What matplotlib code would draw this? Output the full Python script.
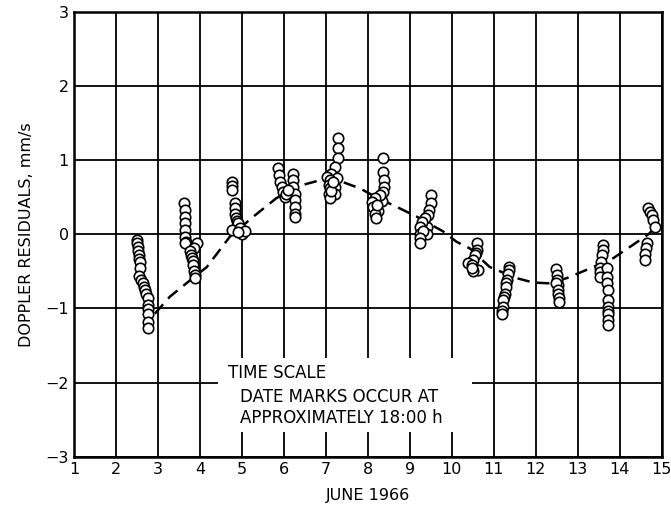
import matplotlib
matplotlib.use('Agg')
import matplotlib.pyplot as plt
from matplotlib.patches import Rectangle

plt.rcParams['font.family'] = ['DejaVu Sans']

# residual points, one list per tracking pass (day of June, mm/s)
pass_x = [
    [2.49, 2.50, 2.52, 2.53, 2.54, 2.55, 2.56, 2.57, 2.55, 2.60, 2.64, 2.67, 2.69, 2.72, 2.76, 2.76, 2.76, 2.76, 2.76, 2.76],
    [3.62, 3.63, 3.63, 3.64, 3.64, 3.65, 3.66, 3.64, 3.92, 3.86, 3.76, 3.78, 3.80, 3.82, 3.84, 3.86, 3.88, 3.88],
    [4.75, 4.75, 4.75, 4.83, 4.83, 4.84, 4.86, 4.88, 4.91, 4.75, 4.95, 4.99, 5.07, 4.90],
    [5.86, 5.88, 5.90, 5.94, 5.98, 6.02, 6.22, 6.22, 6.22, 6.26, 6.26, 6.26, 6.26, 6.26, 6.05, 6.10],
    [7.29, 7.29, 7.29, 7.21, 7.13, 7.02, 7.25, 7.09, 7.06, 7.09, 7.21, 7.06, 7.21, 7.09, 7.13, 7.17],
    [8.35, 8.36, 8.39, 8.39, 8.36, 8.33, 8.29, 8.17, 8.09, 8.13, 8.24, 8.17, 8.19, 8.21],
    [9.50, 9.50, 9.46, 9.44, 9.40, 9.36, 9.28, 9.24, 9.40, 9.24, 9.30, 9.24, 9.24],
    [10.61, 10.60, 10.57, 10.55, 10.51, 10.39, 10.47, 10.63, 10.50, 10.47],
    [11.36, 11.35, 11.34, 11.32, 11.30, 11.29, 11.27, 11.25, 11.22, 11.21, 11.19, 11.19],
    [12.47, 12.50, 12.50, 12.52, 12.48, 12.53, 12.52, 12.56, 12.56],
    [13.61, 13.59, 13.57, 13.55, 13.53, 13.53, 13.53, 13.69, 13.69, 13.70, 13.73, 13.73, 13.73, 13.73, 13.73, 13.73, 13.73],
    [14.68, 14.72, 14.76, 14.80, 14.84, 14.64, 14.62, 14.60, 14.60],
]
pass_y = [
    [-0.07, -0.12, -0.17, -0.22, -0.28, -0.33, -0.37, -0.46, -0.56, -0.61, -0.66, -0.71, -0.75, -0.80, -0.86, -0.95, -1.01, -1.07, -1.18, -1.27],
    [0.42, 0.33, 0.24, 0.15, 0.06, -0.03, -0.10, -0.12, -0.12, -0.18, -0.23, -0.28, -0.32, -0.36, -0.41, -0.50, -0.55, -0.59],
    [0.71, 0.65, 0.60, 0.42, 0.35, 0.28, 0.22, 0.18, 0.15, 0.06, 0.08, 0.01, 0.04, 0.03],
    [0.89, 0.80, 0.71, 0.64, 0.57, 0.51, 0.82, 0.73, 0.64, 0.55, 0.46, 0.37, 0.28, 0.23, 0.55, 0.60],
    [1.30, 1.16, 1.03, 0.91, 0.82, 0.78, 0.76, 0.73, 0.66, 0.62, 0.64, 0.55, 0.55, 0.49, 0.58, 0.70],
    [1.03, 0.84, 0.73, 0.64, 0.57, 0.45, 0.53, 0.49, 0.44, 0.37, 0.32, 0.28, 0.22, 0.40],
    [0.53, 0.42, 0.33, 0.26, 0.10, 0.22, 0.17, 0.10, 0.01, 0.01, 0.05, -0.05, -0.12],
    [-0.12, -0.21, -0.25, -0.28, -0.35, -0.39, -0.41, -0.48, -0.50, -0.45],
    [-0.44, -0.48, -0.53, -0.62, -0.66, -0.71, -0.80, -0.85, -0.89, -0.98, -1.03, -1.07],
    [-0.47, -0.55, -0.62, -0.68, -0.65, -0.75, -0.80, -0.86, -0.91],
    [-0.14, -0.21, -0.28, -0.37, -0.46, -0.51, -0.57, -0.46, -0.57, -0.66, -0.75, -0.89, -0.98, -1.03, -1.07, -1.16, -1.22],
    [0.35, 0.30, 0.26, 0.19, 0.10, -0.12, -0.18, -0.26, -0.35],
]

# fitted residual trend (dashed)
fit_x = [2.92, 3.28, 3.76, 4.16, 4.71, 5.27, 5.82, 6.46, 6.86, 7.33, 7.81, 8.20, 8.76, 9.16,
         9.79, 10.11, 10.43, 10.90, 11.54, 11.94, 12.30, 12.74, 13.29, 13.85, 14.32, 14.68, 14.92]
fit_y = [-1.07, -0.84, -0.62, -0.44, -0.03, 0.24, 0.49, 0.67, 0.73, 0.72, 0.62, 0.50, 0.35, 0.24,
         0.04, -0.10, -0.19, -0.44, -0.59, -0.65, -0.66, -0.59, -0.46, -0.32, -0.14, 0.00, 0.13]

days = list(range(1, 16))
resid_ticks = [-3, -2, -1, 0, 1, 2, 3]

fig = plt.figure(figsize=(6.71, 5.07), dpi=100)
ax = fig.add_axes([0.1107, 0.0992, 0.8754, 0.8771])

ax.set_xlim(1, 15)
ax.set_ylim(-3, 3)
ax.set_xticks(days)
ax.set_yticks(resid_ticks)
ax.set_yticklabels(['\u22123', '\u22122', '\u22121', '0', '1', '2', '3'])
ax.tick_params(length=0, labelsize=11.5, pad=4)
ax.grid(True, color='black', linewidth=1.3)
ax.set_axisbelow(True)
for s in ax.spines.values():
    s.set_linewidth(1.8)

# blank panel behind the time-scale note
ax.add_patch(Rectangle((4.42, -2.67), 6.06, 1.0, facecolor='white', edgecolor='none', zorder=1.5))
ax.text(4.67, -1.87, 'TIME SCALE', fontsize=12, va='center', ha='left', zorder=3)
ax.text(4.95, -2.20, 'DATE MARKS OCCUR AT', fontsize=12, va='center', ha='left', zorder=3)
ax.text(4.95, -2.48, 'APPROXIMATELY 18:00 h', fontsize=12, va='center', ha='left', zorder=3)

ax.plot(fit_x, fit_y, color='black', linewidth=1.8, dashes=(5, 3), zorder=2)

for xs, ys in zip(pass_x, pass_y):
    for x, y in zip(xs, ys):
        ax.plot(x, y, 'o', markersize=7.5, markerfacecolor='white',
                markeredgecolor='black', markeredgewidth=1.2, zorder=4)

ax.set_ylabel('DOPPLER RESIDUALS, mm/s', fontsize=11.5, labelpad=8)
ax.set_xlabel('JUNE 1966', fontsize=11.5, labelpad=8)

fig.savefig('out.png', dpi=100, facecolor='white')
